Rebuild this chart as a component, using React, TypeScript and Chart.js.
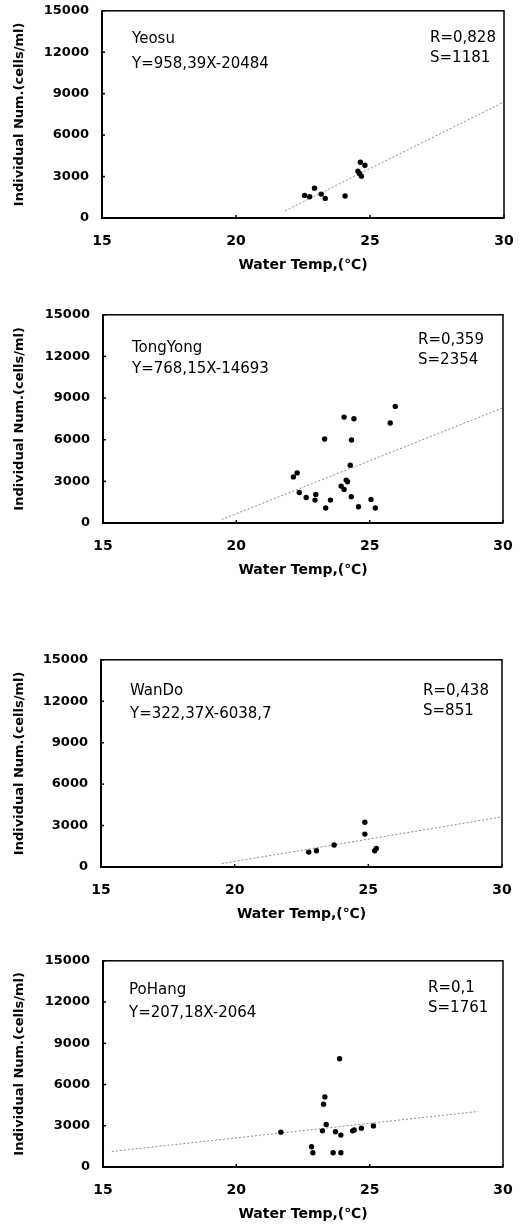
import React, { useEffect, useRef } from "react";
import { Chart, registerables } from "chart.js";

Chart.register(...registerables);

// ---- data ----
const xTickValues = [15, 20, 25, 30];
const yTickValues = [0, 3000, 6000, 9000, 12000, 15000];

const yeosuTemp = [22.56, 22.75, 22.93, 23.18, 23.33, 24.07, 24.55, 24.61, 24.64, 24.68, 24.81];
const yeosuCells = [1635, 1540, 2160, 1730, 1420, 1590, 3390, 3220, 4040, 3030, 3820];
const yeosuLineX = [21.83, 30];
const yeosuLineY = [520, 8400];
const yeosuText = ["Yeosu", "Y=958,39X-20484", "R=0,828", "S=1181"];

const tongyongTemp = [25.96, 24.04, 24.41, 25.77, 23.31, 24.32, 24.27, 22.28, 22.14, 24.12, 24.17, 23.93, 24.04, 22.36, 22.62, 22.98, 22.95, 23.53, 24.31, 25.05, 23.35, 24.58, 25.21];
const tongyongCells = [8400, 7630, 7510, 7200, 6050, 5980, 4160, 3610, 3320, 3090, 2970, 2660, 2420, 2200, 1840, 2060, 1650, 1650, 1890, 1700, 1080, 1170, 1080];
const tongyongLineX = [19.45, 30];
const tongyongLineY = [250, 8300];
const tongyongText = ["TongYong", "Y=768,15X-14693", "R=0,359", "S=2354"];

const wandoTemp = [24.87, 24.87, 23.72, 23.06, 22.77, 25.3, 25.24];
const wandoCells = [3245, 2380, 1590, 1175, 1080, 1350, 1175];
const wandoLineX = [19.52, 30];
const wandoLineY = [250, 3630];
const wandoText = ["WanDo", "Y=322,37X-6038,7", "R=0,438", "S=851"];

const pohangTemp = [23.87, 23.32, 23.27, 23.37, 23.23, 21.67, 23.72, 23.92, 24.36, 24.42, 24.69, 25.14, 22.82, 22.87, 23.63, 23.92];
const pohangCells = [7875, 5100, 4565, 3094, 2630, 2535, 2560, 2320, 2630, 2700, 2826, 2990, 1470, 1040, 1040, 1040];
const pohangLineX = [15.33, 29.07];
const pohangLineY = [1130, 4040];
const pohangText = ["PoHang", "Y=207,18X-2064", "R=0,1", "S=1761"];

const xTitle = "Water Temp,(℃)";
const yTitle = "Individual Num.(cells/ml)";

// ---- panel geometry (layout only) ----
const panels = [
  { temp: yeosuTemp, cells: yeosuCells, lx: yeosuLineX, ly: yeosuLineY, text: yeosuText,
    box: { left: 102, top: 10, right: 504, bottom: 218 },
    pos: { nameDx: 30, nameDy: 28, eqDy: 53, rDx: 328, rDy: 27, sDy: 47 } },
  { temp: tongyongTemp, cells: tongyongCells, lx: tongyongLineX, ly: tongyongLineY, text: tongyongText,
    box: { left: 103, top: 314, right: 503, bottom: 523 },
    pos: { nameDx: 29, nameDy: 33, eqDy: 54, rDx: 315, rDy: 25, sDy: 45 } },
  { temp: wandoTemp, cells: wandoCells, lx: wandoLineX, ly: wandoLineY, text: wandoText,
    box: { left: 101, top: 659, right: 502, bottom: 867 },
    pos: { nameDx: 29, nameDy: 31, eqDy: 54, rDx: 322, rDy: 31, sDy: 51 } },
  { temp: pohangTemp, cells: pohangCells, lx: pohangLineX, ly: pohangLineY, text: pohangText,
    box: { left: 103, top: 960, right: 503, bottom: 1167 },
    pos: { nameDx: 26, nameDy: 29, eqDy: 52, rDx: 325, rDy: 27, sDy: 47 } },
];

const FONT = "'DejaVu Sans', sans-serif";
const PAD_TOP = 20;
const X_AXIS_H = 56;

const framePlugin = {
  id: "frame",
  afterDatasetsDraw(chart: any) {
    const { ctx, chartArea: a, scales } = chart;
    ctx.save();
    ctx.strokeStyle = "#000";
    ctx.lineWidth = 1.5;
    ctx.strokeRect(a.left, a.top, a.right - a.left, a.bottom - a.top);
    ctx.lineWidth = 2;
    ctx.beginPath();
    ctx.moveTo(a.left, a.top);
    ctx.lineTo(a.left, a.bottom);
    ctx.lineTo(a.right, a.bottom);
    ctx.stroke();
    // inner tick marks
    ctx.lineWidth = 1.5;
    yTickValues.forEach((v) => {
      const y = scales.y.getPixelForValue(v);
      ctx.beginPath();
      ctx.moveTo(a.left, y);
      ctx.lineTo(a.left + 3, y);
      ctx.stroke();
    });
    xTickValues.forEach((v) => {
      const x = scales.x.getPixelForValue(v);
      ctx.beginPath();
      ctx.moveTo(x, a.bottom);
      ctx.lineTo(x, a.bottom - 3);
      ctx.stroke();
    });
    ctx.restore();
  },
};

const textPlugin = {
  id: "panelText",
  afterDraw(chart: any, _args: any, opts: any) {
    const { ctx, chartArea: a } = chart;
    const t = opts.text as string[];
    const p = opts.pos;
    ctx.save();
    ctx.fillStyle = "#000";
    ctx.font = `15px ${FONT}`;
    ctx.textAlign = "left";
    ctx.textBaseline = "middle";
    ctx.fillText(t[0], a.left + p.nameDx, a.top + p.nameDy);
    ctx.fillText(t[1], a.left + p.nameDx, a.top + p.eqDy);
    ctx.fillText(t[2], a.left + p.rDx, a.top + p.rDy);
    ctx.fillText(t[3], a.left + p.rDx, a.top + p.sDy);
    ctx.restore();
  },
};

function Panel({ panel }: { panel: (typeof panels)[number] }) {
  const ref = useRef<HTMLCanvasElement>(null);
  const { box } = panel;
  const height = PAD_TOP + (box.bottom - box.top) + X_AXIS_H;
  useEffect(() => {
    if (!ref.current) return;
    const chart = new Chart(ref.current, {
      type: "scatter",
      data: {
        datasets: [
          {
            data: panel.temp.map((x, i) => ({ x, y: panel.cells[i] })),
            backgroundColor: "#000",
            borderColor: "#000",
            borderWidth: 0,
            pointRadius: 2.7,
            order: 1,
          },
          {
            data: panel.lx.map((x, i) => ({ x, y: panel.ly[i] })),
            showLine: true,
            borderColor: "#8a8a8a",
            borderWidth: 1,
            borderDash: [2, 2],
            pointRadius: 0,
            fill: false,
            order: 2,
          } as any,
        ],
      },
      options: {
        responsive: false,
        animation: false,
        devicePixelRatio: 1,
        layout: { padding: { top: PAD_TOP, right: 530 - box.right, left: 0, bottom: 0 } },
        plugins: {
          legend: { display: false },
          tooltip: { enabled: false },
          panelText: { text: panel.text, pos: panel.pos },
        } as any,
        scales: {
          x: {
            type: "linear",
            min: 15,
            max: 30,
            afterBuildTicks: (s: any) => {
              s.ticks = xTickValues.map((v) => ({ value: v }));
            },
            afterFit: (s: any) => {
              s.height = X_AXIS_H;
            },
            grid: { display: false, drawTicks: false },
            border: { display: false },
            ticks: {
              padding: 15,
              color: "#000",
              font: { family: FONT, size: 14, weight: "bold" },
              maxRotation: 0,
              autoSkip: false,
              callback: (v: any) => String(v),
            },
            title: {
              display: true,
              text: xTitle,
              color: "#000",
              font: { family: FONT, size: 14, weight: "bold" },
              padding: { top: 0, bottom: 0 },
            },
          },
          y: {
            type: "linear",
            min: 0,
            max: 15000,
            afterBuildTicks: (s: any) => {
              s.ticks = yTickValues.map((v) => ({ value: v }));
            },
            afterFit: (s: any) => {
              s.width = box.left;
            },
            grid: { display: false, drawTicks: false },
            border: { display: false },
            ticks: {
              padding: 13,
              color: "#000",
              font: { family: FONT, size: 13, weight: "bold" },
              autoSkip: false,
              callback: (v: any) => String(v),
            },
            title: {
              display: true,
              text: yTitle,
              color: "#000",
              font: { family: FONT, size: 13, weight: "bold" },
              padding: { top: 12, bottom: 0 },
            },
          },
        },
      },
      plugins: [framePlugin, textPlugin],
    });
    return () => chart.destroy();
  }, []);
  return (
    <canvas
      ref={ref}
      width={530}
      height={height}
      style={{ position: "absolute", left: 0, top: box.top - PAD_TOP, width: 530, height }}
    />
  );
}

export default function App() {
  return (
    <div style={{ position: "absolute", left: 0, top: 0, width: 530, height: 1225, background: "#fff" }}>
      {panels.map((p, i) => (
        <Panel key={i} panel={p} />
      ))}
    </div>
  );
}
